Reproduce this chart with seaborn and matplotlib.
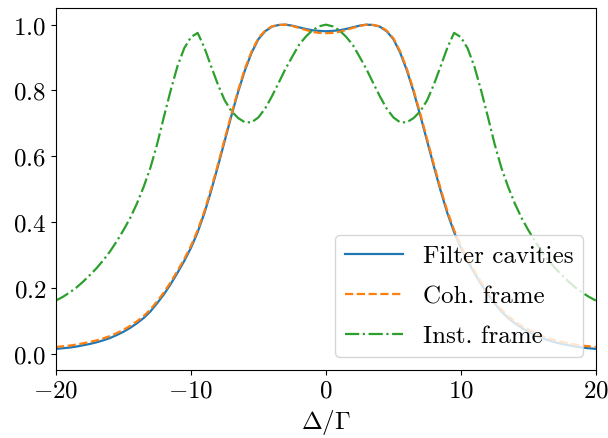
import numpy as np
import pandas as pd
import seaborn as sns
import matplotlib.pyplot as plt

# detuning grid (0.5 steps)
delta = np.arange(-20, 20.5, 0.5)

# half-curves for delta >= 0 (the curves are symmetric)
filter_half = [0.980, 0.981, 0.983, 0.987, 0.992, 0.997, 1.000, 0.999, 0.994, 0.980,
               0.956, 0.915, 0.861, 0.796, 0.723, 0.646, 0.569, 0.495, 0.427, 0.369,
               0.321, 0.281, 0.245, 0.211, 0.180, 0.153, 0.128, 0.108, 0.092, 0.078,
               0.066, 0.056, 0.047, 0.040, 0.034, 0.029, 0.025, 0.021, 0.018, 0.016,
               0.014]
coh_half = [0.974, 0.975, 0.978, 0.984, 0.990, 0.996, 1.000, 0.999, 0.995, 0.982,
            0.959, 0.919, 0.866, 0.801, 0.728, 0.652, 0.575, 0.501, 0.433, 0.375,
            0.327, 0.287, 0.251, 0.217, 0.186, 0.159, 0.134, 0.114, 0.098, 0.084,
            0.072, 0.062, 0.053, 0.046, 0.040, 0.035, 0.031, 0.027, 0.024, 0.022,
            0.020]
inst_half = [1.000, 0.995, 0.983, 0.963, 0.938, 0.902, 0.865, 0.823, 0.782, 0.745,
             0.718, 0.703, 0.703, 0.716, 0.737, 0.770, 0.818, 0.873, 0.930, 0.975,
             0.962, 0.928, 0.873, 0.800, 0.720, 0.637, 0.565, 0.507, 0.456, 0.412,
             0.375, 0.341, 0.310, 0.283, 0.259, 0.238, 0.218, 0.200, 0.185, 0.172,
             0.161]

filter_cav = filter_half[:0:-1] + filter_half
coh_frame = coh_half[:0:-1] + coh_half
inst_frame = inst_half[:0:-1] + inst_half

df = pd.DataFrame({'delta': delta, 'filter': filter_cav,
                   'coh': coh_frame, 'inst': inst_frame})

plt.rcParams['font.family'] = 'cmr10'
plt.rcParams['mathtext.fontset'] = 'cm'
plt.rcParams['axes.formatter.use_mathtext'] = True
plt.rcParams['font.size'] = 18

fig, ax = plt.subplots(figsize=(6.08, 4.39), dpi=100)
fig.subplots_adjust(left=0.092, right=0.980, top=0.979, bottom=0.155)

pal = sns.color_palette('tab10')
sns.lineplot(data=df, x='delta', y='filter', ax=ax, color=pal[0],
             label='Filter cavities', lw=1.6)
sns.lineplot(data=df, x='delta', y='coh', ax=ax, color=pal[1],
             label='Coh. frame', linestyle='--', lw=1.6)
sns.lineplot(data=df, x='delta', y='inst', ax=ax, color=pal[2],
             label='Inst. frame', linestyle='-.', lw=1.6)

ax.set_xlim(-20, 20)
ax.set_ylim(-0.05, 1.05)
ax.set_xticks([-20, -10, 0, 10, 20])
ax.set_yticks([0.0, 0.2, 0.4, 0.6, 0.8, 1.0])
ax.set_xlabel(r'$\Delta/\Gamma$')
ax.set_ylabel('')
ax.legend(loc='lower right', fontsize=18, handlelength=2.3, labelspacing=0.7)

fig.savefig('out.png', dpi=100)
